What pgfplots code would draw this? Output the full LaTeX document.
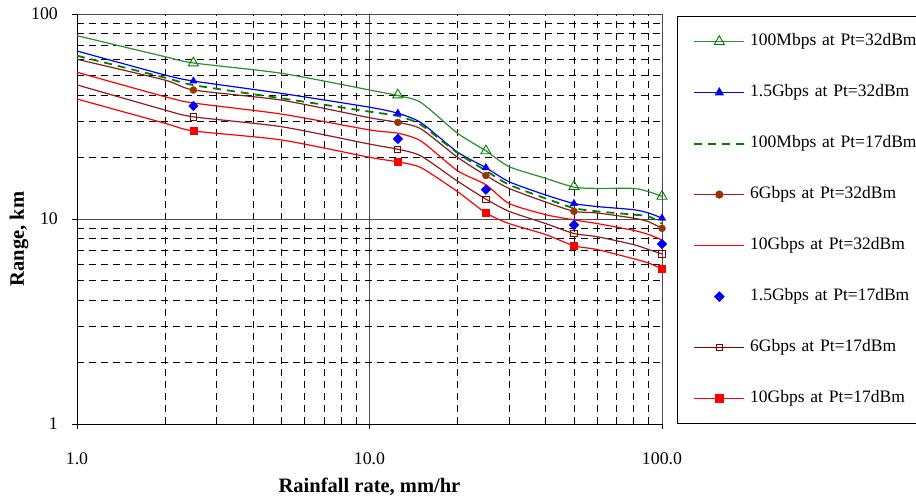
\documentclass[border=0pt]{standalone}
\usepackage{pgfplots}
\usepackage{pgfplotstable}
\pgfplotsset{compat=1.18}
\usepackage{fontspec}
\setmainfont{Liberation Serif}
\definecolor{lgreen}{RGB}{40,145,40}
\definecolor{dgreen}{RGB}{0,128,0}
\definecolor{maroonm}{RGB}{128,0,0}
\definecolor{brownm}{RGB}{153,51,0}
\definecolor{brline}{RGB}{140,30,30}
\definecolor{pured}{RGB}{255,0,0}

% curves: x  G1(100M,32)  B1(1.5G,32)  G2(100M,17)  R1(6G,32)  Rd1(10G,32)  R2(6G,17)  Rd2(10G,17)
\pgfplotstableread{
x    g1   b1   g2   r1   d1   r2   d2
1    78.4 66.0 62.6 60.1 52.0 45.1 38.5
2    61.9 50.4 48.9 47.6 39.5 34.0 29.3
2.5  57.7 47.1 45.0 42.6 36.8 31.5 26.9
5    51.4 41.0 38.8 38.0 32.5 28.2 24.3
10   42.6 35.1 33.4 31.2 27.2 23.2 20.0
12.5 40.0 32.8 31.8 29.6 26.2 21.9 19.0
15   37.0 29.5 28.8 27.5 24.0 20.3 17.8
20   26.2 21.2 21.0 20.0 17.2 15.3 13.6
25   21.5 17.8 17.2 16.3 14.7 12.5 10.7
30   18.0 15.2 14.7 14.1 11.9 10.9 9.5
40   15.8 13.1 12.6 12.1 10.5 9.5  8.4
50   14.3 11.9 11.3 10.9 9.9  8.5  7.4
60   14.1 11.5 10.9 10.7 9.5  8.2  7.1
80   14.1 11.1 10.5 10.1 8.8  7.5  6.4
90   13.6 10.7 10.3 9.7  8.4  7.1  6.1
100  12.9 10.1 9.5  9.0  7.9  6.75 5.7
}\curves

% markers
\pgfplotstableread{
x    g1   b1   r1   bd   r2   d2
2.5  57.7 47.1 42.6 35.6 31.5 26.9
12.5 40.3 32.8 29.6 24.6 21.9 19.0
25   21.5 17.8 16.3 13.9 12.5 10.7
50   14.4 11.9 10.9 9.35 8.5  7.4
100  12.9 10.1 9.0  7.55 6.75 5.7
}\marks

\begin{document}
\begin{tikzpicture}
\path[use as bounding box] (-77pt,-75pt) rectangle (839pt,424pt);
\begin{loglogaxis}[
  at={(0pt,0pt)}, anchor=south west,
  scale only axis, width=585pt, height=410pt,
  xmin=1, xmax=100, ymin=1, ymax=100,
  axis x line*=bottom, axis y line*=left,
  axis line style={black, line width=0.8pt},
  xtick={1,10,100}, xticklabels={1.0,10.0,100.0},
  ytick={1,10,100}, yticklabels={1,10,100},
  tick align=outside, major tick length=5pt, minor tick length=0pt,
  tick style={black, line width=0.8pt},
  tick label style={font=\fontsize{17.8}{20}\selectfont},
  xticklabel style={inner sep=0pt, yshift=-23pt},
  yticklabel style={inner sep=0pt, xshift=-14pt},
  xmajorgrids, ymajorgrids, xminorgrids, yminorgrids,
  major grid style={gray!60!black, line width=0.8pt, solid},
  minor grid style={black, line width=0.8pt, dash pattern=on 7pt off 5pt},
  xlabel={Rainfall rate, mm/hr}, ylabel={Range, km},
  label style={font=\fontsize{20.5}{24}\selectfont\bfseries},
  xlabel style={at={(axis description cs:0.5,-0.1537)}, anchor=center},
  ylabel style={at={(axis description cs:-0.099,0.451)}, anchor=center, rotate=0},
  legend image code/.code={\path (0pt,0pt); \draw[mark repeat=2,mark phase=2,#1] plot coordinates {(16pt,0pt) (41pt,0pt) (66pt,0pt)};},
  legend cell align=left,
  legend style={at={(axis description cs:1,0)}, anchor=south west, xshift=15pt,
    draw=black, line width=0.8pt, fill=white,
    inner xsep=0pt, inner ysep=16.75pt, row sep=34.5pt, column sep=5pt,
    font=\fontsize{17.5}{20}\selectfont,
    nodes={inner sep=0pt, text height=12.5pt, text depth=4pt, text width=167pt, align=left}},
]
% legend entries
\addlegendimage{draw=lgreen, line width=1.2pt, mark=triangle, mark size=5.8pt, mark options={draw=dgreen, fill=white, solid, line width=0.9pt}}
\addlegendentry{100Mbps at Pt=32dBm}
\addlegendimage{draw=blue, line width=1.2pt, mark=triangle*, mark size=4.3pt, mark options={draw=blue, fill=blue, solid}}
\addlegendentry{1.5Gbps at Pt=32dBm}
\addlegendimage{draw=dgreen, line width=1.8pt, dash pattern=on 8pt off 6pt}
\addlegendentry{100Mbps at Pt=17dBm}
\addlegendimage{draw=brline, line width=1.2pt, mark=*, mark size=3.5pt, mark options={draw=brownm, fill=brownm, solid}}
\addlegendentry{6Gbps at Pt=32dBm}
\addlegendimage{draw=pured, line width=1.5pt}
\addlegendentry{10Gbps at Pt=32dBm}
\addlegendimage{only marks, mark=square*, mark size=3.4pt, mark options={draw=blue, fill=blue, rotate=45}}
\addlegendentry{1.5Gbps at Pt=17dBm}
\addlegendimage{draw=maroonm, line width=1.2pt, mark=square, mark size=3.1pt, mark options={draw=maroonm, fill=white, solid, line width=0.9pt}}
\addlegendentry{6Gbps at Pt=17dBm}
\addlegendimage{draw=pured, line width=1.2pt, mark=square*, mark size=3.6pt, mark options={draw=pured, fill=pured, solid}}
\addlegendentry{10Gbps at Pt=17dBm}

% curves
\addplot[forget plot, lgreen, line width=1.2pt, smooth, tension=0.4] table[x=x, y=g1] {\curves};
\addplot[forget plot, blue, line width=1.2pt, smooth, tension=0.4] table[x=x, y=b1] {\curves};
\addplot[forget plot, dgreen, line width=1.8pt, dash pattern=on 8pt off 6pt, smooth, tension=0.4] table[x=x, y=g2] {\curves};
\addplot[forget plot, brline, line width=1.2pt, smooth, tension=0.4] table[x=x, y=r1] {\curves};
\addplot[forget plot, pured, line width=1.2pt, smooth, tension=0.4] table[x=x, y=d1] {\curves};
\addplot[forget plot, brline, line width=1.2pt, smooth, tension=0.4] table[x=x, y=r2] {\curves};
\addplot[forget plot, pured, line width=1.2pt, smooth, tension=0.4] table[x=x, y=d2] {\curves};

% markers
\addplot[forget plot, only marks, mark=triangle, mark size=5.8pt, mark options={draw=dgreen, fill=white, line width=0.9pt}] table[x=x, y=g1] {\marks};
\addplot[forget plot, only marks, mark=triangle*, mark size=4.3pt, mark options={draw=blue, fill=blue}] table[x=x, y=b1] {\marks};
\addplot[forget plot, only marks, mark=*, mark size=3.5pt, mark options={draw=brownm, fill=brownm}] table[x=x, y=r1] {\marks};
\addplot[forget plot, only marks, mark=square*, mark size=3.4pt, mark options={draw=blue, fill=blue, rotate=45}] table[x=x, y=bd] {\marks};
\addplot[forget plot, only marks, mark=square, mark size=3.1pt, mark options={draw=maroonm, fill=white, line width=0.9pt}] table[x=x, y=r2] {\marks};
\addplot[forget plot, only marks, mark=square*, mark size=3.6pt, mark options={draw=pured, fill=pured}] table[x=x, y=d2] {\marks};
\end{loglogaxis}
\end{tikzpicture}
\end{document}
